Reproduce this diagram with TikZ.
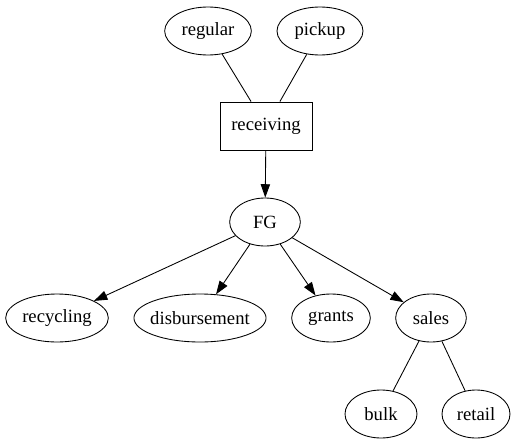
\documentclass[tikz,border=0pt]{standalone}
\usepackage{fontspec}
\setmainfont{Liberation Serif}
\usepackage{tikz}
\usetikzlibrary{shapes.geometric, arrows.meta}

\begin{document}
\begin{tikzpicture}[
        x=0.75pt, y=-0.75pt,
        every node/.style={font=\fontsize{14}{16}\selectfont, line width=0.65pt},
        oval/.style={ellipse, draw, inner sep=0pt, minimum height=36pt},
        box/.style={rectangle, draw, inner sep=0pt, minimum width=69pt, minimum height=36pt},
        plainline/.style={line width=0.65pt},
        arrowline/.style={-{Triangle[length=10pt, width=7pt]}, line width=0.65pt}
    ]
        \useasboundingbox (0,0) rectangle (521,443);
        % intake
        \node[oval, minimum width=65pt] (regular) at (208,31) {regular};
        \node[oval, minimum width=64.5pt] (pickup) at (320,31) {pickup};
        \node[box] (receiving) at (266,126) {receiving};
        \node[oval, minimum width=53pt] (fg) at (265,222) {FG};
        % outgoing
        \node[oval, minimum width=77pt] (recycling) at (57,318) {recycling};
        \node[oval, inner xsep=-2.3pt, minimum width=99pt] (disbursement) at (200,318) {disbursement};
        \node[oval, minimum width=59pt] (grants) at (331,318) {grants};
        \node[oval, minimum width=53pt] (sales) at (431,318) {sales};
        \node[oval, minimum width=54pt] (bulk) at (381,414) {bulk};
        \node[oval, minimum width=51pt] (retail) at (476,414) {retail};
        \draw[plainline] (regular) -- (receiving);
        \draw[plainline] (pickup) -- (receiving);
        \draw[arrowline] (receiving) -- (fg);
        \draw[arrowline] (fg) -- (recycling);
        \draw[arrowline] (fg) -- (disbursement);
        \draw[arrowline] (fg) -- (grants);
        \draw[arrowline] (fg) -- (sales);
        \draw[plainline] (sales) -- (bulk);
        \draw[plainline] (sales) -- (retail);
    \end{tikzpicture}
\end{document}
